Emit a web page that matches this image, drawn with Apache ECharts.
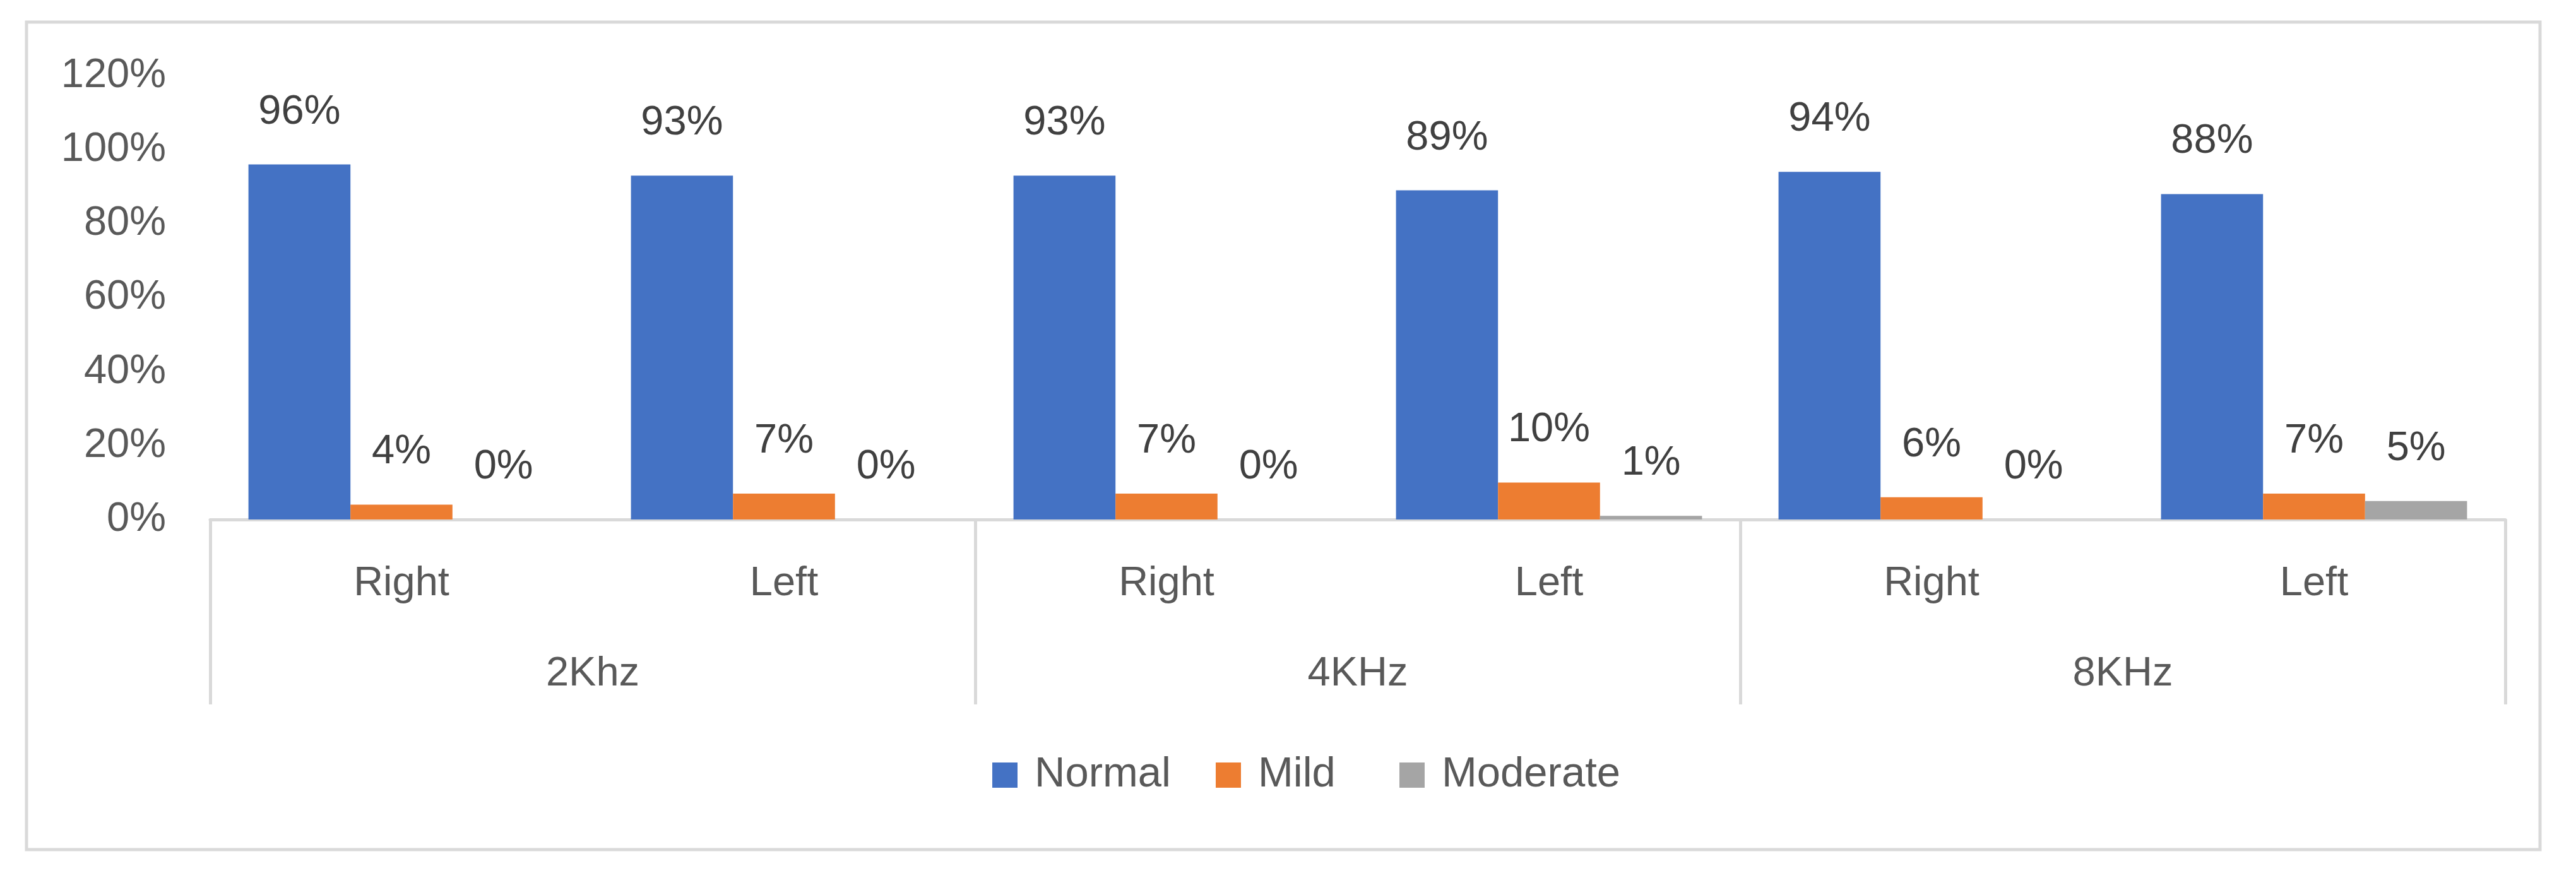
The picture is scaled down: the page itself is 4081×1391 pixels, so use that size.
<!DOCTYPE html>
<html>
<head>
<meta charset="utf-8">
<script src="https://cdn.jsdelivr.net/npm/echarts@6/dist/echarts.min.js"></script>
<style>
html,body{margin:0;padding:0;background:#fff;}
#c{width:4081px;height:1391px;}
</style>
</head>
<body>
<div id="c"></div>
<script>
const subCategories = ['Right', 'Left', 'Right', 'Left', 'Right', 'Left'];
const groupCategories = ['2Khz', '4KHz', '8KHz'];
const normalValues = [0.96, 0.93, 0.93, 0.89, 0.94, 0.88];
const mildValues = [0.04, 0.07, 0.07, 0.10, 0.06, 0.07];
const moderateValues = [0.00, 0.00, 0.00, 0.01, 0.00, 0.05];
const seriesNames = ['Normal', 'Mild', 'Moderate'];
const yTicks = [0, 0.2, 0.4, 0.6, 0.8, 1.0, 1.2];

const FONT = "'Liberation Sans', Arial, sans-serif";
const FS = 65;
const LH = 78;
const colors = ['#4472C4', '#ED7D31', '#A5A5A5'];
const legendLefts = [1572, 1926, 2217];
const pct = v => Math.round(v * 100) + '%';

const chart = echarts.init(document.getElementById('c'), null, {renderer: 'canvas'});

function barSeries(name, data, color) {
  return {
    name: name,
    type: 'bar',
    xAxisIndex: 0,
    yAxisIndex: 0,
    data: data,
    barGap: '0%',
    barCategoryGap: '20%',
    itemStyle: {color: color},
    label: {
      show: true,
      position: 'top',
      distance: 44,
      formatter: p => pct(p.value),
      fontFamily: FONT,
      fontSize: FS,
      lineHeight: LH,
      color: '#404040'
    }
  };
}

const legends = seriesNames.map((n, i) => ({
  data: [n],
  left: legendLefts[i],
  top: 1189,
  icon: 'rect',
  itemWidth: 40,
  itemHeight: 40,
  padding: 0,
  textStyle: {fontFamily: FONT, fontSize: FS + 2, lineHeight: LH, color: '#595959', padding: [0, 0, 0, 22]}
}));

chart.setOption({
  animation: false,
  backgroundColor: '#fff',
  color: colors,
  graphic: [{
    type: 'rect',
    shape: {x: 42, y: 35, width: 3982, height: 1311},
    style: {fill: 'none', stroke: '#d9d9d9', lineWidth: 5},
    silent: true
  }],
  grid: {left: 333, right: 112, top: 120, bottom: 568, containLabel: false},
  legend: legends,
  xAxis: [{
    type: 'category',
    data: subCategories,
    position: 'bottom',
    axisLine: {show: true, lineStyle: {color: '#d9d9d9', width: 5}},
    axisTick: {show: false},
    splitLine: {show: false},
    axisLabel: {fontFamily: FONT, fontSize: FS, lineHeight: LH, color: '#595959', margin: 63, interval: 0}
  }, {
    type: 'category',
    data: groupCategories,
    position: 'bottom',
    offset: 0,
    axisLine: {show: false},
    axisTick: {show: true, length: 293, lineStyle: {color: '#d9d9d9', width: 5}},
    splitLine: {show: false},
    axisLabel: {fontFamily: FONT, fontSize: FS, lineHeight: LH, color: '#595959', margin: 206, interval: 0}
  }],
  yAxis: {
    type: 'value',
    min: yTicks[0],
    max: yTicks[yTicks.length - 1],
    interval: 0.2,
    axisLine: {show: false},
    axisTick: {show: false},
    splitLine: {show: false},
    axisLabel: {fontFamily: FONT, fontSize: FS, color: '#595959', margin: 70, formatter: v => pct(v)}
  },
  series: [
    barSeries(seriesNames[0], normalValues, colors[0]),
    barSeries(seriesNames[1], mildValues, colors[1]),
    barSeries(seriesNames[2], moderateValues, colors[2])
  ]
});
</script>
</body>
</html>
